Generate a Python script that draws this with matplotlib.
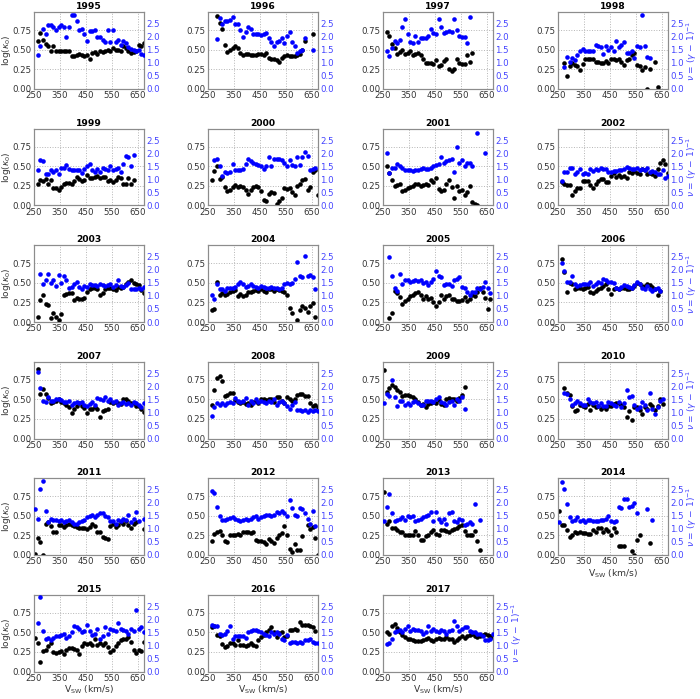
import numpy as np
import matplotlib
matplotlib.use('Agg')
import matplotlib.pyplot as plt

na = np.nan

# Solar wind speed bins (km/s)
VSW = [255, 265, 275, 285, 295, 305, 315, 325, 335, 345, 355, 365, 375, 385, 395,
       405, 415, 425, 435, 445, 455, 465, 475, 485, 495, 505, 515, 525, 535, 545,
       555, 565, 575, 585, 595, 605, 615, 625, 635, 645, 655, 665, 675]

YEARS = [1995, 1996, 1997, 1998, 1999, 2000, 2001, 2002, 2003, 2004, 2005, 2006,
         2007, 2008, 2009, 2010, 2011, 2012, 2013, 2014, 2015, 2016, 2017]

XTICKS = [250, 350, 450, 550, 650]
K_TICKS = [0.0, 0.25, 0.5, 0.75]
K_TICKLABELS = ['0.00', '0.25', '0.50', '0.75']
NU_TICKS = [0.0, 0.5, 1.0, 1.5, 2.0, 2.5]

# log(kappa_0) (black) and nu (blue) per year
k1995 = [na, 0.61, 0.72, 0.63, 0.57, 0.55, 0.49, 0.55, 0.48, 0.49, 0.49, 0.48, 0.48, 0.49, 0.42, 0.42, 0.43, 0.45, 0.43, 0.42, 0.44, 0.38, 0.46, 0.47, 0.45, 0.48, 0.47, 0.49, 0.50, 0.48, 0.53, 0.50, 0.50, 0.49, 0.55, 0.52, 0.48, 0.46, 0.47, 0.49, 0.56, 0.55, 0.59]
n1995 = [na, 1.29, 1.66, 2.32, 2.1, 2.47, 2.47, 2.37, 2.28, 2.37, 2.47, 2.38, 1.98, 2.38, 2.86, 2.84, 2.6, 2.28, 2.32, 2.11, 1.83, 2.22, 2.24, 2.25, 1.98, 1.98, 1.9, 1.79, 2.28, 1.79, 2.28, 1.79, 1.9, 1.68, 1.83, 1.77, 1.61, 1.53, 1.5, 1.48, 1.5, 1.35, 1.31]
k1996 = [na, na, na, 0.93, 0.85, 0.77, 0.56, 0.47, 0.50, 0.53, 0.545, 0.53, 0.46, 0.44, 0.45, 0.45, 0.44, 0.43, 0.44, 0.45, 0.45, 0.44, 0.46, 0.40, 0.38, 0.39, 0.37, 0.35, 0.40, 0.42, 0.43, 0.42, 0.42, 0.42, 0.44, 0.45, 0.50, 0.61, na, na, 0.70]
n1996 = [na, na, na, 1.93, 2.73, 2.5, 2.6, 2.62, 2.65, 2.76, 2.5, 2.5, 2.28, 1.98, 2.18, 2.37, 2.3, 2.1, 2.1, 2.1, 2.08, 2.12, 2.15, 1.97, 1.8, 1.65, 1.8, 1.85, 1.95, 1.78, 2.03, 2.2, 1.8, 1.65, 1.4, 1.45, 1.5, 1.95, na, na, 1.5]
k1997 = [na, 0.73, 0.68, 0.57, 0.52, 0.45, 0.47, 0.50, 0.45, 0.46, 0.49, 0.44, 0.45, 0.46, 0.43, 0.38, 0.33, 0.33, 0.33, 0.32, 0.37, 0.30, 0.31, 0.36, 0.39, 0.25, 0.23, 0.26, 0.39, 0.33, 0.32, 0.32, 0.43, 0.35, 0.46]
n1997 = [na, 1.47, 1.25, 1.57, 1.85, 1.75, 1.88, 2.38, 2.68, 2.1, 1.8, 1.77, 2.05, 1.8, 1.95, 1.95, 1.95, 2.05, 2.3, 2.15, 2.12, 2.7, 2.38, 2.15, 2.2, 2.22, 2.2, 2.68, 2.28, 2.02, 1.98, 2.0, 1.75, 2.78]
k1998 = [na, na, 0.33, 0.17, 0.30, 0.33, 0.31, 0.30, 0.24, 0.32, 0.38, 0.38, 0.39, 0.38, 0.35, 0.34, 0.33, 0.33, 0.36, 0.33, 0.38, 0.38, 0.37, 0.39, 0.34, 0.31, 0.37, 0.39, 0.43, 0.46, 0.31, 0.29, 0.24, 0.28, 0.0, 0.25, na, 0.34, 0.02]
n1998 = [na, na, 0.85, 1.22, 1.05, 1.2, 1.12, 1.3, 1.45, 1.55, 1.45, 1.45, 1.45, 1.47, 1.7, 1.65, 1.6, 1.35, 1.65, 1.5, 1.6, 1.45, 1.85, 1.6, 1.7, 1.8, 1.38, 1.4, 1.45, 1.2, 1.65, 1.62, 2.85, 1.65, 1.22, 1.2]
k1999 = [na, 0.28, 0.32, 0.31, 0.34, 0.28, 0.33, 0.22, 0.23, 0.20, 0.24, 0.28, 0.29, 0.29, 0.27, 0.31, 0.36, 0.34, 0.31, 0.32, 0.39, 0.35, 0.35, 0.36, 0.38, 0.35, 0.37, 0.36, 0.31, 0.33, 0.30, 0.33, 0.36, 0.35, 0.28, 0.28, 0.35, 0.28, 0.32]
n1999 = [na, 1.35, 1.75, 1.7, 1.2, 1.2, 1.35, 1.3, 1.35, 1.2, 1.45, 1.45, 1.55, 1.4, 1.38, 1.38, 1.35, 1.35, 1.25, 1.4, 1.5, 1.6, 1.35, 1.3, 1.4, 1.3, 1.45, 1.4, 1.35, 1.5, 1.35, 1.42, 1.45, 1.3, 1.6, 1.9, 1.85, 1.5, 1.95]
k2000 = [na, 0.33, 0.44, 0.50, 0.34, 0.36, 0.24, 0.19, 0.20, 0.24, 0.26, 0.24, 0.25, 0.24, 0.20, 0.15, 0.20, 0.24, 0.25, 0.24, 0.19, 0.07, 0.06, 0.15, 0.17, 0.16, 0.02, 0.06, 0.10, 0.22, 0.21, 0.23, 0.17, 0.14, 0.25, 0.28, 0.32, 0.34, 0.20, 0.24, 0.43, 0.45, 0.13]
n2000 = [na, na, 1.75, 1.78, 1.5, 1.15, 1.3, 1.25, 1.3, 1.6, 1.35, 1.35, 1.35, 1.4, 1.6, 1.8, 1.7, 1.65, 1.6, 1.55, 1.5, 1.4, 1.5, 1.85, 1.5, 1.8, 1.8, 1.8, 1.75, 1.65, 1.5, 1.75, 1.55, 1.5, 1.85, 1.55, 1.85, 2.05, 1.9, 1.35, 1.4, 1.45]
k2001 = [na, 0.51, 0.42, 0.33, 0.25, 0.26, 0.27, 0.18, 0.20, 0.22, 0.24, 0.25, 0.27, 0.28, 0.25, 0.26, 0.28, 0.26, 0.32, 0.30, 0.35, 0.21, 0.18, 0.20, 0.28, 0.32, 0.24, 0.09, 0.25, 0.18, 0.20, 0.14, 0.17, 0.25, 0.05, 0.02, 0.0]
n2001 = [na, 2.0, 1.25, 1.45, 1.45, 1.6, 1.5, 1.45, 1.35, 1.35, 1.35, 1.32, 1.38, 1.35, 1.4, 1.45, 1.4, 1.4, 1.45, 1.5, 1.55, 1.6, 1.85, 1.65, 1.7, 1.75, 1.78, 1.3, 2.25, 1.65, 1.75, 1.5, 1.65, 1.65, 1.5, na, 2.8, na, na, 2.0]
k2002 = [na, 0.30, 0.27, 0.26, 0.26, 0.14, 0.19, 0.22, 0.23, 0.31, 0.31, 0.31, 0.26, 0.23, 0.27, 0.31, 0.34, 0.34, 0.30, 0.30, 0.38, 0.41, 0.37, 0.39, 0.36, 0.38, 0.35, 0.43, 0.42, 0.44, 0.42, 0.40, 0.47, 0.45, 0.40, 0.42, 0.40, 0.38, 0.47, 0.54, 0.58, 0.53, 0.42]
n2002 = [na, 0.95, 1.3, 1.28, 1.45, 1.43, 1.22, 1.28, 1.42, 1.2, 1.25, 1.2, 1.4, 1.32, 1.4, 1.37, 1.45, 1.42, 1.42, 1.3, 1.3, 1.32, 1.33, 1.35, 1.38, 1.42, 1.48, 1.45, 1.42, 1.4, 1.45, 1.38, 1.42, 1.35, 1.45, 1.3, 1.32, 1.3, 1.2, 1.22, 1.35, 1.05, 1.15]
k2003 = [na, 0.07, 0.28, 0.35, 0.23, 0.22, 0.05, 0.12, 0.07, 0.03, 0.10, 0.34, 0.36, 0.37, 0.37, 0.28, 0.31, 0.30, 0.30, 0.31, 0.39, 0.42, 0.43, 0.43, 0.42, 0.35, 0.37, 0.42, 0.44, 0.44, 0.42, 0.41, 0.45, 0.43, 0.45, 0.48, 0.51, 0.54, 0.50, 0.48, 0.47, 0.41, 0.37]
n2003 = [na, na, 1.85, 1.45, 1.6, 1.85, 1.5, 1.6, 1.4, 1.82, 1.5, 1.75, 1.6, 1.3, 1.35, 1.45, 1.52, 1.35, 1.25, 1.38, 1.35, 1.45, 1.42, 1.42, 1.4, 1.45, 1.42, 1.38, 1.42, 1.45, 1.35, 1.42, 1.6, 1.4, 1.35, 1.42, 1.5, 1.25, 1.27, 1.25, 1.3, 1.25, 1.35]
k2004 = [na, 0.15, 0.17, 0.51, 0.34, 0.37, 0.35, 0.36, 0.38, 0.40, 0.41, 0.33, 0.36, 0.33, 0.35, 0.38, 0.38, 0.40, 0.41, 0.40, 0.42, 0.40, 0.38, 0.42, 0.42, 0.40, 0.42, 0.41, 0.40, 0.38, 0.34, 0.18, 0.12, na, 0.03, 0.15, 0.21, 0.18, 0.13, 0.20, 0.24, 0.07]
n2004 = [na, 1.05, 0.9, 1.45, 1.25, 1.25, 1.2, 1.3, 1.3, 1.3, 1.35, 1.45, 1.55, 1.45, 1.35, 1.4, 1.45, 1.4, 1.35, 1.3, 1.4, 1.35, 1.3, 1.3, 1.35, 1.3, 1.32, 1.25, 1.3, 1.45, 1.5, 1.45, 1.5, 1.65, 2.3, 1.75, 1.72, 2.55, 1.75, 1.8, 1.72, 1.25]
k2005 = [na, na, 0.05, 0.12, 0.40, 0.37, 0.32, 0.23, 0.27, 0.30, 0.33, 0.35, 0.37, 0.39, 0.34, 0.30, 0.33, 0.30, 0.31, 0.26, 0.20, 0.26, 0.35, 0.30, 0.33, 0.35, 0.30, 0.29, 0.27, 0.27, 0.28, 0.32, 0.27, 0.30, 0.34, 0.33, 0.38, 0.44, 0.39, 0.31, 0.17, 0.29]
n2005 = [na, na, 2.5, 1.75, 1.3, 1.2, 1.85, 1.45, 1.6, 1.6, 1.55, 1.58, 1.6, 1.58, 1.6, 1.5, 1.55, 1.42, 1.55, 1.65, 1.95, 1.75, 1.72, 1.42, 1.48, 1.45, 1.4, 1.6, 1.65, 1.72, 1.35, 1.3, 1.15, 1.05, 1.15, 1.15, 1.3, 1.25, 1.35, 1.55, 1.3, 1.1]
k2006 = [na, 0.81, 0.64, 0.38, 0.50, 0.49, 0.42, 0.43, 0.44, 0.42, 0.44, 0.45, 0.39, 0.37, 0.40, 0.42, 0.44, 0.46, 0.48, 0.42, 0.36, 0.42, 0.43, 0.42, 0.44, 0.43, 0.42, 0.42, 0.44, 0.46, 0.50, 0.49, 0.46, 0.46, 0.48, 0.47, 0.45, 0.42, 0.35, 0.40]
n2006 = [na, 2.25, 1.95, 1.55, 1.55, 1.75, 1.45, 1.4, 1.42, 1.45, 1.48, 1.45, 1.52, 1.4, 1.45, 1.55, 1.5, 1.65, 1.62, 1.52, 1.52, 1.5, 1.3, 1.25, 1.35, 1.42, 1.38, 1.35, 1.32, 1.42, 1.52, 1.45, 1.3, 1.25, 1.38, 1.25, 1.2, 1.25, 1.3, 1.2]
k2007 = [na, 0.89, 0.57, 0.63, 0.57, 0.52, 0.45, 0.47, 0.48, 0.50, 0.47, 0.45, 0.43, 0.40, 0.33, 0.38, 0.42, 0.45, 0.41, 0.39, 0.33, 0.38, 0.38, 0.40, 0.38, 0.27, 0.35, 0.37, 0.38, 0.47, 0.45, 0.47, 0.46, 0.44, 0.50, 0.50, 0.48, 0.46, 0.45, 0.42, 0.42, 0.38, 0.34]
n2007 = [na, 2.55, 1.95, 1.45, 1.4, 1.6, 1.45, 1.45, 1.52, 1.5, 1.48, 1.42, 1.4, 1.45, 1.3, 1.35, 1.4, 1.38, 1.4, 1.3, 1.25, 1.32, 1.4, 1.3, 1.55, 1.5, 1.48, 1.6, 1.45, 1.5, 1.4, 1.45, 1.3, 1.35, 1.4, 1.32, 1.35, 1.3, 1.4, 1.35, 1.3, 1.2, 1.38]
k2008 = [na, 0.43, 0.62, 0.78, 0.80, 0.73, 0.54, 0.56, 0.58, 0.58, 0.49, 0.47, 0.46, 0.47, 0.44, 0.45, 0.43, 0.47, 0.48, 0.45, 0.51, 0.50, 0.49, 0.50, 0.51, 0.47, 0.53, 0.53, 0.48, 0.45, 0.53, 0.50, 0.48, 0.50, 0.56, 0.57, 0.57, 0.54, 0.55, 0.46, 0.42, 0.43, 0.40]
n2008 = [na, 0.85, 1.2, 1.35, 1.3, 1.35, 1.3, 1.35, 1.4, 1.35, 1.55, 1.45, 1.4, 1.45, 1.55, 1.3, 1.45, 1.35, 1.5, 1.4, 1.45, 1.4, 1.35, 1.45, 1.4, 1.5, 1.3, 1.4, 1.45, 1.35, 1.25, 1.15, 1.3, 1.4, 1.1, 1.1, 1.05, 1.1, 1.0, 1.1, 1.05, 1.1, 1.05]
k2009 = [0.88, 0.60, 0.65, 0.69, 0.66, 0.62, 0.60, 0.55, 0.56, 0.56, 0.55, 0.53, 0.50, 0.47, 0.43, 0.44, 0.40, 0.44, 0.46, 0.47, 0.45, 0.49, 0.44, 0.43, 0.50, 0.52, 0.51, 0.50, 0.48, 0.52, 0.56, 0.66]
n2009 = [1.35, 1.7, 1.65, 2.25, 1.6, 1.25, 1.45, 1.45, 1.3, 1.35, 1.3, 1.4, 1.45, 1.35, 1.3, 1.3, 1.45, 1.45, 1.45, 1.4, 1.5, 1.6, 1.4, 1.35, 1.3, 1.4, 1.45, 1.3, 1.5, 1.45, 1.6, 1.15]
k2010 = [na, na, 0.64, 0.58, 0.56, 0.42, 0.35, 0.37, 0.43, 0.42, 0.40, 0.44, 0.36, 0.43, 0.40, 0.41, 0.38, 0.40, 0.38, 0.41, 0.42, 0.44, 0.45, 0.45, 0.43, 0.40, 0.27, 0.35, 0.24, 0.40, 0.40, 0.36, 0.31, 0.40, 0.38, 0.44, 0.42, 0.36, 0.42, 0.50, 0.44]
n2010 = [na, na, 1.75, 1.7, 1.5, 1.3, 1.35, 1.45, 1.35, 1.3, 1.3, 1.5, 1.4, 1.35, 1.4, 1.25, 1.35, 1.25, 1.25, 1.4, 1.35, 1.3, 1.25, 1.4, 1.2, 1.35, 1.85, 1.6, 1.65, 1.3, 1.15, 1.2, 1.4, 1.3, 1.1, 1.75, 1.15, 0.95, 1.2, 1.45, 1.5]
k2011 = [0.01, 0.22, 0.17, 0.0, 0.40, 0.42, 0.37, 0.30, 0.30, 0.38, 0.38, 0.36, 0.38, 0.40, 0.38, 0.37, 0.36, 0.35, 0.34, 0.34, 0.33, 0.36, 0.40, 0.37, 0.29, 0.29, 0.23, 0.22, 0.21, 0.37, 0.40, 0.36, 0.38, 0.42, 0.40, 0.43, 0.38, 0.35, 0.40, 0.42, na, na, 0.33]
n2011 = [1.75, 1.4, 2.55, 2.85, 1.7, 1.25, 1.4, 1.35, 1.35, 1.3, 1.35, 1.25, 1.3, 1.35, 1.25, 1.2, 1.2, 1.25, 1.3, 1.35, 1.45, 1.5, 1.55, 1.45, 1.55, 1.6, 1.6, 1.5, 1.45, 1.3, 1.3, 1.2, 1.35, 1.3, 1.4, 1.35, 1.55, 1.25, 1.4, 1.65, 1.3, na, 1.38]
k2012 = [na, 0.18, 0.27, 0.30, 0.31, 0.25, 0.18, 0.17, 0.25, 0.26, 0.26, 0.27, 0.25, 0.30, 0.30, 0.29, 0.28, 0.30, 0.19, 0.18, 0.18, 0.17, 0.14, 0.20, 0.18, 0.15, 0.22, 0.26, 0.28, 0.37, 0.25, 0.08, 0.04, 0.14, 0.06, 0.07, 0.24, na, 0.38, 0.33, 0.36, 0.22, 0.0]
n2012 = [na, 2.45, 2.38, 1.85, 1.5, 1.35, 1.35, 1.38, 1.42, 1.45, 1.4, 1.35, 1.3, 1.35, 1.4, 1.35, 1.4, 1.45, 1.5, 1.4, 1.45, 1.5, 1.55, 1.55, 1.5, 1.55, 1.65, 1.6, 1.7, 1.6, 1.5, 2.1, 1.8, 1.55, 1.5, 1.8, 1.75, 1.6, 1.4, 1.2, 1.7, 1.1]
k2013 = [0.80, 0.40, 0.43, 0.35, 0.35, 0.32, 0.30, 0.29, 0.26, 0.25, 0.25, 0.25, 0.31, 0.26, 0.19, 0.19, 0.24, 0.26, 0.30, 0.32, 0.27, 0.26, 0.32, 0.32, 0.31, 0.29, 0.32, 0.33, 0.35, 0.37, 0.38, 0.31, 0.26, 0.25, 0.26, 0.31, 0.18, 0.07]
n2013 = [1.3, 1.85, 2.35, 1.6, 1.3, 1.35, 1.4, 1.45, 1.35, 1.5, 1.45, 1.5, 1.3, 1.35, 1.4, 1.45, 1.5, 1.55, 1.65, 1.3, 1.65, 1.4, 1.25, 1.4, 1.2, 1.6, 1.65, 1.3, 1.25, 1.4, 1.35, 1.15, 1.2, 1.25, 1.2, 1.95, na, 1.35]
k2014 = [0.56, 0.38, 0.38, 0.32, 0.23, 0.25, 0.29, 0.28, 0.29, 0.28, 0.28, 0.27, 0.27, 0.32, 0.30, 0.34, 0.35, 0.30, 0.33, 0.31, 0.26, 0.35, 0.30, 0.12, 0.12, 0.11, na, na, 0.05, 0.0, 0.19, 0.25, na, na, na, 0.15]
n2014 = [1.25, 2.8, 2.55, 1.95, 1.45, 1.3, 1.35, 1.45, 1.3, 1.35, 1.25, 1.35, 1.35, 1.3, 1.3, 1.3, 1.35, 1.35, 1.4, 1.5, 1.3, 1.25, 1.3, 1.85, 1.8, 2.15, 2.15, 1.85, 1.9, 2.0, 1.6, na, na, na, 1.78, na, 1.35]
k2015 = [0.43, 0.37, 0.12, 0.26, 0.28, 0.32, 0.36, 0.25, 0.24, 0.25, 0.26, 0.22, 0.27, 0.30, 0.30, 0.29, 0.27, 0.23, 0.32, 0.37, 0.35, 0.36, 0.34, 0.42, 0.34, 0.36, 0.34, 0.36, 0.31, 0.25, 0.28, 0.33, 0.36, 0.40, 0.41, 0.42, 0.44, 0.38, 0.28, 0.24, 0.28, 0.26, 0.38]
n2015 = [na, 1.85, 2.85, 1.55, 1.25, 1.3, 1.2, 1.3, 1.35, 1.35, 1.4, 1.45, 1.3, 1.35, 1.5, 1.75, 1.72, 1.65, 1.5, 1.55, 1.8, 1.55, 1.4, 1.45, 1.65, 1.25, 1.35, 1.7, 1.45, 1.65, 1.6, 1.55, 1.85, 1.65, 1.6, 1.55, 1.45, 1.65, 1.55, 2.35, 1.65, 1.7, 1.5]
k2016 = [na, 0.57, 0.58, 0.47, 0.45, 0.35, 0.31, 0.33, 0.36, 0.36, 0.34, 0.40, 0.34, 0.34, 0.33, 0.34, 0.36, 0.34, 0.33, 0.40, 0.44, 0.47, 0.50, 0.53, 0.57, 0.50, 0.44, 0.49, 0.50, 0.44, 0.45, 0.53, 0.53, 0.54, 0.53, 0.63, 0.60, 0.60, 0.60, 0.58, 0.57, 0.52]
n2016 = [na, 1.8, 1.75, 1.75, 1.45, 1.4, 1.45, 1.55, 1.75, 1.25, 1.35, 1.38, 1.35, 1.35, 1.3, 1.5, 1.55, 1.6, 1.6, 1.55, 1.5, 1.45, 1.4, 1.35, 1.5, 1.45, 1.5, 1.45, 1.25, 1.2, 1.4, 1.1, 1.15, 1.15, 1.1, 1.15, 1.1, 1.2, 1.2, 1.25, 1.15, 1.1, 1.1]
k2017 = [na, 0.50, 0.48, 0.58, 0.61, 0.56, 0.50, 0.47, 0.44, 0.42, 0.41, 0.40, 0.39, 0.39, 0.39, 0.40, 0.42, 0.43, 0.40, 0.39, 0.42, 0.43, 0.42, 0.41, 0.44, 0.42, 0.41, 0.38, 0.40, 0.43, 0.45, 0.43, 0.45, 0.47, 0.48, 0.46, 0.44, 0.45, 0.47, 0.48, 0.47, 0.46, 0.44]
n2017 = [na, 1.05, 1.1, 1.25, 1.5, 1.55, 1.6, 1.5, 1.65, 1.75, 1.55, 1.65, 1.6, 1.6, 1.55, 1.45, 1.5, 1.75, 1.55, 1.65, 1.55, 1.5, 1.6, 1.55, 1.45, 1.55, 1.6, 1.95, 1.75, 1.55, 1.65, 1.7, 1.7, 1.55, 1.5, 1.5, 1.45, 1.45, 1.35, 1.2, 1.2, 1.25, 1.45]

KAPPA = [k1995, k1996, k1997, k1998, k1999, k2000, k2001, k2002, k2003, k2004, k2005, k2006,
         k2007, k2008, k2009, k2010, k2011, k2012, k2013, k2014, k2015, k2016, k2017]
NU = [n1995, n1996, n1997, n1998, n1999, n2000, n2001, n2002, n2003, n2004, n2005, n2006,
      n2007, n2008, n2009, n2010, n2011, n2012, n2013, n2014, n2015, n2016, n2017]


def as_series(vals):
    arr = np.full(len(VSW), np.nan)
    v = np.array(vals[:len(VSW)], dtype=float)
    arr[:len(v)] = v
    return arr


plt.rcParams['font.family'] = ['DejaVu Sans']
FW, FH = 700, 699
fig = plt.figure(figsize=(FW / 100, FH / 100), dpi=100)

COL_LEFT = [34, 208, 383, 558]
ROW_BOTTOM = [89, 205.5, 322, 438.5, 555, 671.5]
AX_W, AX_H = 110, 77

TICK_FS = 6.2
BLUE = '#0000ff'
BLUE_TXT = '#4444ff'
DARK = '#333333'
xs = np.array(VSW, dtype=float)

for i, year in enumerate(YEARS):
    r, c = divmod(i, 4)
    left = COL_LEFT[c] / FW
    bottom = (FH - ROW_BOTTOM[r]) / FH
    ax = fig.add_axes([left, bottom, AX_W / FW, AX_H / FH])
    ax2 = ax.twinx()

    ax.plot(xs, as_series(KAPPA[i]), 'o', color='black', ms=3.3, mew=0, zorder=3)
    ax2.plot(xs, as_series(NU[i]), 'o', color=BLUE, ms=3.3, mew=0, zorder=3)

    ax.set_xlim(250, 675)
    ax.set_ylim(0, 0.985)
    ax2.set_ylim(0, 2.96)
    ax.set_xticks(XTICKS)
    ax.set_yticks(K_TICKS)
    ax.set_yticklabels(K_TICKLABELS)
    ax2.set_yticks(NU_TICKS)

    ax.grid(True, linestyle=':', color='#b5b5b5', linewidth=0.7)
    ax.set_axisbelow(True)
    ax.tick_params(axis='both', labelsize=TICK_FS, colors=DARK, length=0, pad=1.5)
    ax2.tick_params(axis='y', labelsize=TICK_FS, colors=BLUE_TXT, length=0, pad=1.5)
    for a in (ax, ax2):
        for s in a.spines.values():
            s.set_color('#8c8c8c')
            s.set_linewidth(0.8)

    ax.set_title(str(year), fontsize=6.6, fontweight='bold', pad=2)

    if c == 0:
        ax.set_ylabel(r'log($\kappa_0$)', fontsize=6.5, color=DARK, labelpad=0)
    if c == 3 or year == 2017:
        ax2.set_ylabel(r'$\nu$ = ($\gamma$ $-$ 1)$^{-1}$', fontsize=6.5, color=BLUE_TXT, labelpad=1)
    if r == 5 or year == 2014:
        ax.set_xlabel(r'V$_{\mathrm{SW}}$ (km/s)', fontsize=6.6, color=DARK, labelpad=1)

fig.savefig('out.png', dpi=100)
